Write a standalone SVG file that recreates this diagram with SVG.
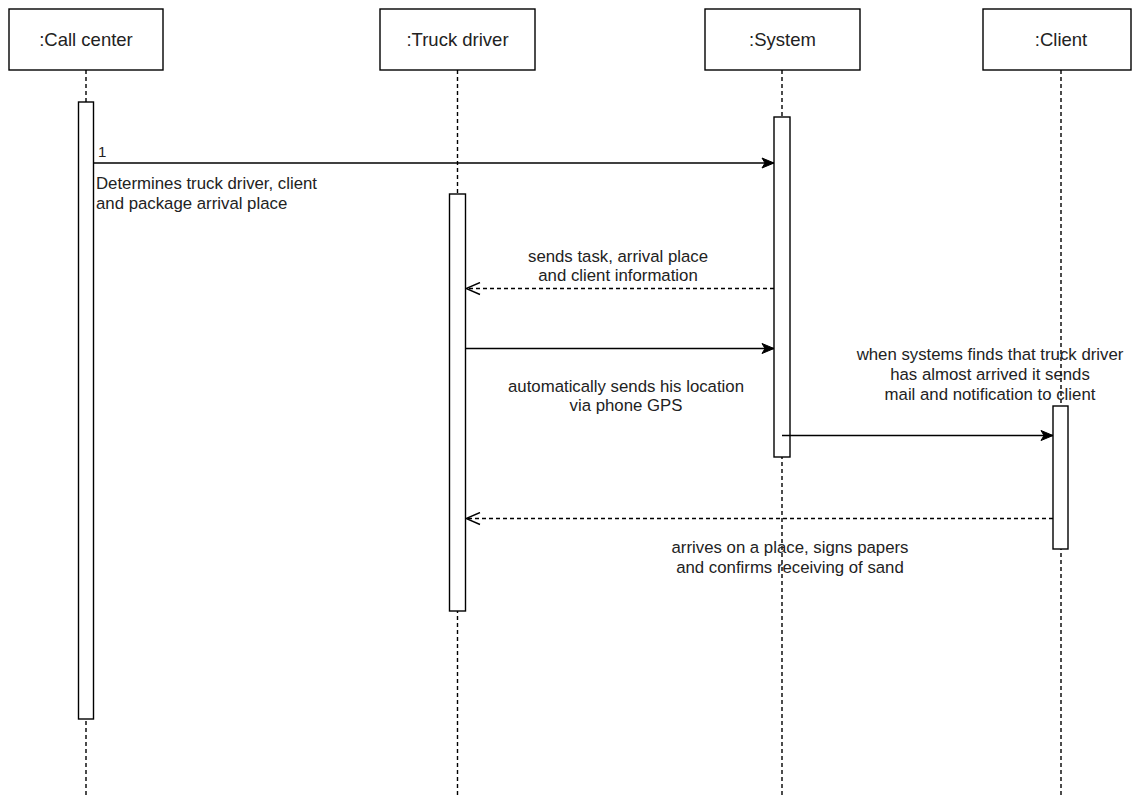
<svg xmlns="http://www.w3.org/2000/svg" width="1132" height="798" viewBox="0 0 1132 798">
  <style>
    .head { fill: #ffffff; stroke: #000000; stroke-width: 1.4; }
    .bar { fill: #ffffff; stroke: #000000; stroke-width: 1.4; }
    .life { stroke: #000000; stroke-width: 1.4; stroke-dasharray: 4 3; fill: none; }
    .msg { stroke: #000000; stroke-width: 1.4; fill: none; }
    .ret { stroke: #000000; stroke-width: 1.4; fill: none; stroke-dasharray: 4 3; }
    .title { font-family: "Liberation Sans", Arial, sans-serif; font-size: 18.5px; fill: #222222; text-anchor: middle; }
    .label { font-family: "Liberation Sans", Arial, sans-serif; font-size: 16.8px; fill: #222222; }
    .mid { text-anchor: middle; }
  </style>
  <defs>
    <marker id="solidHead" markerWidth="14" markerHeight="12" refX="13" refY="6" orient="auto" markerUnits="userSpaceOnUse">
      <path d="M1,1 L13,6 L1,11 L4,6 Z" fill="#000000" stroke="#000000" stroke-width="1"/>
    </marker>
    <marker id="openHead" markerWidth="16" markerHeight="14" refX="15" refY="7" orient="auto" markerUnits="userSpaceOnUse">
      <path d="M1,1 L15,7 L1,13" fill="none" stroke="#000000" stroke-width="1.4"/>
    </marker>
  </defs>
  <rect width="1132" height="798" fill="#ffffff"/>

  <!-- lifelines with their heads and activation bars -->
  <g id="call-center">
    <line class="life" x1="86" y1="70" x2="86" y2="798"/>
    <rect class="head" x="9" y="9" width="154" height="61"/>
    <text class="title" x="86" y="46">:Call center</text>
    <rect class="bar" x="78.5" y="102" width="15" height="617"/>
  </g>
  <g id="truck-driver">
    <line class="life" x1="457.5" y1="70" x2="457.5" y2="798"/>
    <rect class="head" x="380" y="9" width="155" height="61"/>
    <text class="title" x="457.5" y="46">:Truck driver</text>
    <rect class="bar" x="449.5" y="194" width="16" height="417"/>
  </g>
  <g id="system">
    <line class="life" x1="782" y1="70" x2="782" y2="798"/>
    <rect class="head" x="705" y="9" width="155" height="61"/>
    <text class="title" x="782.5" y="46">:System</text>
    <rect class="bar" x="774" y="117" width="16" height="340"/>
  </g>
  <g id="client">
    <line class="life" x1="1061" y1="70" x2="1061" y2="798"/>
    <rect class="head" x="983" y="9" width="148" height="61"/>
    <text class="title" x="1061" y="46">:Client</text>
    <rect class="bar" x="1053" y="406" width="15" height="143"/>
  </g>

  <!-- messages -->
  <g id="connectors">
    <line class="msg" x1="93.5" y1="163" x2="774" y2="163" marker-end="url(#solidHead)"/>
    <line class="ret" x1="774" y1="288.5" x2="466" y2="288.5" marker-end="url(#openHead)"/>
    <line class="msg" x1="465.5" y1="348.5" x2="774" y2="348.5" marker-end="url(#solidHead)"/>
    <line class="msg" x1="782" y1="435.5" x2="1053" y2="435.5" marker-end="url(#solidHead)"/>
    <line class="ret" x1="1053" y1="518.5" x2="466" y2="518.5" marker-end="url(#openHead)"/>
  </g>

  <!-- message labels -->
  <g id="labels">
    <text class="label" x="98" y="157" style="font-size:15px">1</text>
    <text class="label" x="96" y="189">Determines truck driver, client</text>
    <text class="label" x="96" y="209">and package arrival place</text>

    <text class="label mid" x="618" y="262">sends task, arrival place</text>
    <text class="label mid" x="618" y="281">and client information</text>

    <text class="label mid" x="626" y="392">automatically sends his location</text>
    <text class="label mid" x="626" y="411">via phone GPS</text>

    <text class="label mid" x="990" y="360">when systems finds that truck driver</text>
    <text class="label mid" x="990" y="380">has almost arrived it sends</text>
    <text class="label mid" x="990" y="400">mail and notification to client</text>

    <text class="label mid" x="790" y="553">arrives on a place, signs papers</text>
    <text class="label mid" x="790" y="573">and confirms receiving of sand</text>
  </g>
</svg>
